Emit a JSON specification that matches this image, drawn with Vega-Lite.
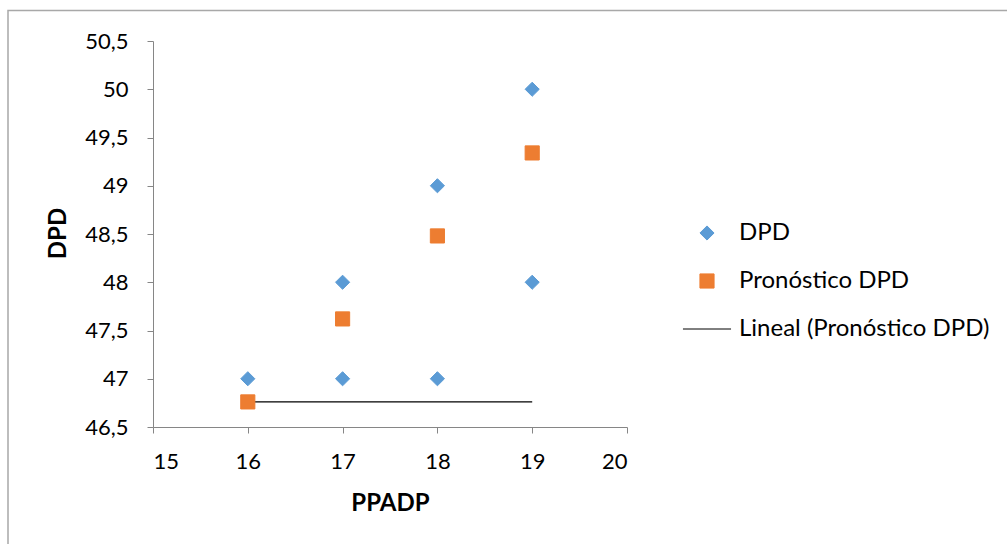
{
  "$schema": "https://vega.github.io/schema/vega-lite/v6.json",
  "autosize": "none",
  "width": 474,
  "height": 386,
  "padding": {"left": 153, "top": 41, "right": 380, "bottom": 117},
  "background": "white",
  "config": {
    "view": {"stroke": null},
    "font": "Lato",
    "axis": {
      "domainColor": "#868686",
      "tickColor": "#868686",
      "tickSize": 6,
      "grid": false,
      "labelFont": "Lato",
      "labelFontSize": 22,
      "labelColor": "#000000",
      "titleFont": "Lato",
      "titleFontSize": 24,
      "titleFontWeight": "bold",
      "titleColor": "#000000"
    }
  },
  "datasets": {
    "pts": [
      {"PPADP": 16, "DPD": 47, "serie": "DPD"},
      {"PPADP": 17, "DPD": 47, "serie": "DPD"},
      {"PPADP": 17, "DPD": 48, "serie": "DPD"},
      {"PPADP": 18, "DPD": 47, "serie": "DPD"},
      {"PPADP": 18, "DPD": 49, "serie": "DPD"},
      {"PPADP": 19, "DPD": 48, "serie": "DPD"},
      {"PPADP": 19, "DPD": 50, "serie": "DPD"},
      {"PPADP": 16, "DPD": 46.76, "serie": "Pronóstico DPD"},
      {"PPADP": 17, "DPD": 47.62, "serie": "Pronóstico DPD"},
      {"PPADP": 18, "DPD": 48.48, "serie": "Pronóstico DPD"},
      {"PPADP": 19, "DPD": 49.34, "serie": "Pronóstico DPD"}
    ],
    "trend": [
      {"PPADP": 16, "DPD": 46.76},
      {"PPADP": 19, "DPD": 46.76}
    ],
    "frame": [
      {"x0": 13.4705, "x1": 30, "y0": 50.8160, "y1": 40}
    ]
  },
  "layer": [
    {
      "data": {"name": "frame"},
      "mark": {"type": "rect", "fill": "transparent", "stroke": "#A8A8A8", "strokeWidth": 1.5},
      "encoding": {
        "x": {"field": "x0", "type": "quantitative"},
        "x2": {"field": "x1"},
        "y": {"field": "y0", "type": "quantitative"},
        "y2": {"field": "y1"}
      }
    },
    {
      "data": {"name": "trend"},
      "mark": {"type": "line", "color": "#000000", "strokeWidth": 1.2},
      "encoding": {
        "x": {"field": "PPADP", "type": "quantitative"},
        "y": {"field": "DPD", "type": "quantitative"}
      }
    },
    {
      "data": {"name": "pts"},
      "mark": {"type": "point", "filled": true, "opacity": 1, "size": 200, "strokeWidth": 1},
      "encoding": {
        "x": {
          "field": "PPADP", "type": "quantitative",
          "scale": {"domain": [15, 20], "nice": false, "zero": false},
          "axis": {"values": [15, 16, 17, 18, 19, 20], "format": "d", "title": "PPADP", "labelPadding": 18,
                   "titleX": 237, "titleY": 76, "titleBaseline": "middle", "titleAlign": "center"}
        },
        "y": {
          "field": "DPD", "type": "quantitative",
          "scale": {"domain": [46.5, 50.5], "nice": false, "zero": false},
          "axis": {"values": [46.5, 47, 47.5, 48, 48.5, 49, 49.5, 50, 50.5], "format": ".1~f",
                   "labelExpr": "replace(datum.label, '.', ',')", "labelPadding": 19,
                   "title": "DPD", "titleX": -95, "titleY": 192, "titleAngle": -90,
                   "titleBaseline": "middle", "titleAlign": "center"}
        },
        "color": {
          "field": "serie", "type": "nominal",
          "scale": {"domain": ["DPD", "Pronóstico DPD", "Lineal (Pronóstico DPD)"], "range": ["#5B9BD5", "#ED7D31", "#000000"]},
          "legend": {
            "title": null,
            "orient": "none",
            "legendX": 542,
            "legendY": 180,
            "padding": 0,
            "rowPadding": 24,
            "symbolSize": 200,
            "symbolStrokeWidth": 1,
            "labelOffset": 20,
            "labelFont": "Lato",
            "labelFontSize": 24,
            "labelColor": "#000000",
            "labelLimit": 400
          }
        },
        "stroke": {
          "field": "serie", "type": "nominal",
          "scale": {"domain": ["DPD", "Pronóstico DPD", "Lineal (Pronóstico DPD)"], "range": ["#5B9BD5", "#ED7D31", "#000000"]}
        },
        "shape": {
          "field": "serie", "type": "nominal",
          "scale": {"domain": ["DPD", "Pronóstico DPD", "Lineal (Pronóstico DPD)"], "range": ["diamond", "square", "M-3.4,0H3.4"]}
        }
      }
    }
  ]
}
